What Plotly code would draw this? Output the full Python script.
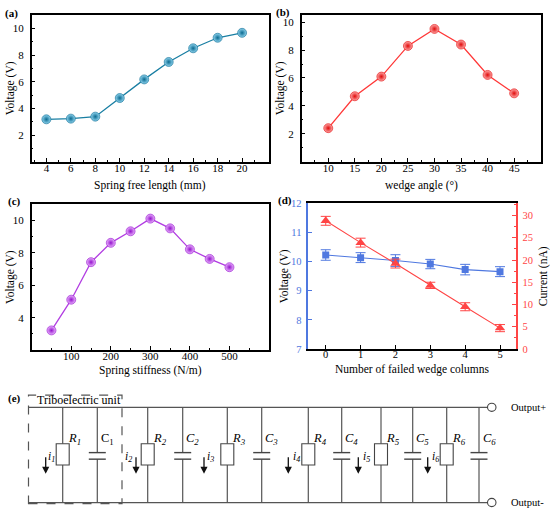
import plotly.graph_objects as go

W, H = 550, 519
SERIF = "Liberation Serif, Times New Roman, Times, serif"

# ---------------- data ----------------
# (a)
spring_length_mm = [4, 6, 8, 10, 12, 14, 16, 18, 20]
voltage_a = [3.18, 3.23, 3.38, 4.78, 6.18, 7.49, 8.52, 9.31, 9.68]
# (b)
wedge_angle_deg = [10, 15, 20, 25, 30, 35, 40, 45]
voltage_b = [2.4, 4.69, 6.1, 8.3, 9.52, 8.4, 6.22, 4.9]
# (c)
spring_stiffness = [50, 100, 150, 200, 250, 300, 350, 400, 450, 500]
voltage_c = [3.22, 5.11, 7.42, 8.61, 9.32, 10.1, 9.5, 8.21, 7.62, 7.11]
# (d)
failed_columns = [0, 1, 2, 3, 4, 5]
voltage_d = [10.22, 10.13, 10.03, 9.91, 9.72, 9.65]
voltage_d_err = [0.18, 0.17, 0.2, 0.16, 0.18, 0.17]
current_d = [28.8, 23.9, 19.2, 14.3, 9.5, 4.7]
current_d_err = [1.0, 1.0, 1.0, 0.7, 0.9, 0.8]
# (e)
branch_index = ["1", "2", "3", "4", "5", "6"]

# ---------------- helpers ----------------
def px(x):
    return x / W

def py(y):
    return 1 - y / H

def box_axis(**kw):
    d = dict(showline=True, linecolor="black", linewidth=1.5, mirror=True,
             ticks="inside", ticklen=4, tickwidth=1, tickcolor="black",
             showgrid=False, zeroline=False,
             tickfont=dict(family=SERIF, size=11, color="black"),
             ticklabelstandoff=-5)
    d.update(kw)
    return d

fig = go.Figure()

def sphere_trace(x, y, xa, ya, line_col, center_col, edge_col):
    return go.Scatter(
        x=x, y=y, xaxis=xa, yaxis=ya, mode="lines+markers",
        line=dict(color=line_col, width=1.3),
        marker=dict(symbol="circle", size=9, color=center_col,
                    gradient=dict(type="radial", color=edge_col),
                    line=dict(width=0.6, color=edge_col)),
        showlegend=False, hoverinfo="x+y")

fig.add_trace(sphere_trace(spring_length_mm, voltage_a, "x", "y",
                           "#1a7fa3", "#8fd4ef", "#0a6a90"))
fig.add_trace(sphere_trace(wedge_angle_deg, voltage_b, "x2", "y2",
                           "#ff3838", "#ffa8a8", "#e00a0a"))
fig.add_trace(sphere_trace(spring_stiffness, voltage_c, "x3", "y3",
                           "#b23ee2", "#eab0ff", "#9414cc"))

BLUE = "#4f78e0"
RED = "#ff4545"
fig.add_trace(go.Scatter(
    x=failed_columns, y=voltage_d, xaxis="x4", yaxis="y4",
    mode="lines+markers", line=dict(color=BLUE, width=1.1),
    marker=dict(symbol="square", size=7, color=BLUE),
    error_y=dict(type="data", array=voltage_d_err, color=BLUE,
                 thickness=1, width=5),
    showlegend=False))
fig.add_trace(go.Scatter(
    x=failed_columns, y=current_d, xaxis="x4", yaxis="y5",
    mode="lines+markers", line=dict(color=RED, width=1.1),
    marker=dict(symbol="triangle-up", size=9, color=RED),
    error_y=dict(type="data", array=current_d_err, color=RED,
                 thickness=1, width=5),
    showlegend=False))

dom_a_x = [px(31.7), px(269)]
dom_top_y = [py(160), py(10.5)]
dom_b_x = [px(301.7), px(540.7)]
dom_c_y = [py(352.7), py(203.3)]
dom_d_x = [px(308.3), px(515.7)]
dom_d_y = [py(351.5), py(202.3)]

fig.update_layout(
    width=W, height=H, margin=dict(l=0, r=0, t=0, b=0),
    paper_bgcolor="white", plot_bgcolor="white", showlegend=False,
    xaxis=box_axis(domain=dom_a_x, anchor="y", range=[2.8, 22.2],
                   tickvals=[4, 6, 8, 10, 12, 14, 16, 18, 20],
                   minor=dict(tickvals=[3, 5, 7, 9, 11, 13, 15, 17, 19, 21],
                              ticks="inside", ticklen=2, tickcolor="black")),
    yaxis=box_axis(domain=dom_top_y, anchor="x", range=[0, 11],
                   tickvals=[2, 4, 6, 8, 10], ticklabelstandoff=4,
                   minor=dict(tickvals=[1, 3, 5, 7, 9, 11],
                              ticks="inside", ticklen=2, tickcolor="black")),
    xaxis2=box_axis(domain=dom_b_x, anchor="y2", range=[5, 50],
                    tickvals=[10, 15, 20, 25, 30, 35, 40, 45],
                    minor=dict(tickvals=[7.5, 12.5, 17.5, 22.5, 27.5, 32.5,
                                         37.5, 42.5, 47.5],
                               ticks="inside", ticklen=2, tickcolor="black")),
    yaxis2=box_axis(domain=dom_top_y, anchor="x2", range=[0, 10.5],
                    tickvals=[2, 4, 6, 8, 10], ticklabelstandoff=4,
                    minor=dict(tickvals=[1, 3, 5, 7, 9],
                               ticks="inside", ticklen=2, tickcolor="black")),
    xaxis3=box_axis(domain=dom_a_x, anchor="y3", range=[0, 600],
                    tickvals=[100, 200, 300, 400, 500],
                    minor=dict(tickvals=[50, 150, 250, 350, 450, 550],
                               ticks="inside", ticklen=2, tickcolor="black")),
    yaxis3=box_axis(domain=dom_c_y, anchor="x3", range=[2, 11],
                    tickvals=[4, 6, 8, 10], ticklabelstandoff=4,
                    minor=dict(tickvals=[3, 5, 7, 9],
                               ticks="inside", ticklen=2, tickcolor="black")),
    xaxis4=box_axis(domain=dom_d_x, anchor="y4", range=[-0.5, 5.45],
                    tickvals=[0, 1, 2, 3, 4, 5],
                    tickfont=dict(family=SERIF, size=10.5, color="black")),
    yaxis4=dict(domain=dom_d_y, anchor="x4", range=[7, 12], side="left",
                showline=True, linecolor=BLUE, linewidth=1.5, mirror=False,
                ticks="inside", ticklen=4, tickcolor=BLUE,
                tickvals=[7, 8, 9, 10, 11, 12], showgrid=False, zeroline=False,
                tickfont=dict(family=SERIF, size=10.5, color=BLUE),
                ticklabelstandoff=3),
    yaxis5=dict(overlaying="y4", anchor="x4", side="right", range=[0, 32.8],
                showline=True, linecolor=RED, linewidth=1.5,
                ticks="inside", ticklen=4, tickcolor=RED,
                tickvals=[0, 5, 10, 15, 20, 25, 30], showgrid=False,
                zeroline=False,
                minor=dict(tickvals=[2.5, 7.5, 12.5, 17.5, 22.5, 27.5, 32.5],
                           ticks="inside", ticklen=2, tickcolor=RED),
                tickfont=dict(family=SERIF, size=10.5, color=RED),
                ticklabelstandoff=3),
)

annotations = []
shapes = []

def text(x, y, t, size=11.5, xanchor="center", yanchor="middle",
         angle=0, color="black"):
    annotations.append(dict(
        x=px(x), y=py(y), xref="paper", yref="paper", text=t,
        showarrow=False, xanchor=xanchor, yanchor=yanchor, textangle=angle,
        font=dict(family=SERIF, size=size, color=color)))

# panel labels
for lbl, (lx, ly) in {"(a)": (3, 9), "(b)": (274, 8), "(c)": (6, 201),
                      "(d)": (276, 200), "(e)": (6, 402)}.items():
    text(lx, ly, "<b>%s</b>" % lbl, size=11, xanchor="left")

# axis titles
text(150, 184, "Spring free length (mm)", size=11.5)
text(422, 184, "wedge angle (°)", size=11.5)
text(150, 373, "Spring stiffness (N/m)", size=11.5)
text(412, 372, "Number of failed wedge columns", size=11.5)
text(10, 85, "Voltage (V)", size=11.5, angle=-90)
text(280, 85, "Voltage (V)", size=11.5, angle=-90)
text(10, 278, "Voltage (V)", size=11.5, angle=-90)
text(284, 277, "Voltage (V)", size=11.5, angle=-90)
text(543, 277, "Current (nA)", size=11.5, angle=-90)

# ---------------- circuit (e) ----------------
WIRE = "#555555"
TOP, BOT = 411, 508.3
R_X = [62.7, 147.7, 227.3, 308.3, 381, 446.7]
C_X = [97.3, 182.7, 261.7, 341.7, 412.7, 479]
I_X = [45.7, 136, 204, 288.3, 358.3, 427.7]
I_LABEL_DX = [6, -8, 7, 8, 8, 8]

def seg(x0, y0, x1, y1, color=WIRE, width=1.2, dash="solid"):
    shapes.append(dict(type="line", xref="paper", yref="paper",
                       x0=px(x0), y0=py(y0), x1=px(x1), y1=py(y1),
                       line=dict(color=color, width=width, dash=dash)))

# dashed box
shapes.append(dict(type="rect", xref="paper", yref="paper",
                   x0=px(28.5), y0=py(509.5), x1=px(122), y1=py(398.5),
                   line=dict(color="#555555", width=1.2, dash="dash")))
text(79, 404, "Triboelectric unit", size=12)

# rails
seg(28.5, TOP, 487.5, TOP)
seg(28.5, BOT, 487.5, BOT)

for k, idx in enumerate(branch_index):
    rx, cx, ix = R_X[k], C_X[k], I_X[k]
    # resistor branch
    seg(rx, TOP, rx, 448.3)
    seg(rx, 470, rx, BOT)
    shapes.append(dict(type="rect", xref="paper", yref="paper",
                       x0=px(rx - 6.5), y0=py(470), x1=px(rx + 6.5),
                       y1=py(448.3), line=dict(color="#444444", width=1.1),
                       fillcolor="white"))
    text(rx + 12, 443, "<i>R<sub>%s</sub></i>" % idx, size=12.5)
    # capacitor branch
    seg(cx, TOP, cx, 457.3)
    seg(cx, 464, cx, BOT)
    seg(cx - 8.5, 457.3, cx + 8.5, 457.3, color="#444444", width=1.4)
    seg(cx - 8.5, 464, cx + 8.5, 464, color="#444444", width=1.4)
    ctext = ("C<sub>%s</sub>" % idx) if k == 0 else ("<i>C<sub>%s</sub></i>" % idx)
    text(cx + 10, 443, ctext, size=12.5)
    # current arrow
    annotations.append(dict(
        x=px(ix), y=py(479), xref="paper", yref="paper",
        ax=0, ay=-18, axref="pixel", ayref="pixel",
        showarrow=True, arrowhead=2, arrowsize=1.1, arrowwidth=1.3,
        arrowcolor="#111111", text=""))
    text(ix + I_LABEL_DX[k], 462, "<i>i<sub>%s</sub></i>" % idx, size=11.5)

# output terminals
for yy, lbl in [(TOP, "Output+"), (BOT, "Output-")]:
    shapes.append(dict(type="circle", xref="paper", yref="paper",
                       x0=px(487.5), x1=px(496), y0=py(yy + 4.2),
                       y1=py(yy - 4.2),
                       line=dict(color="#444444", width=1.1),
                       fillcolor="white"))
    text(509, yy, lbl, size=10.5, xanchor="left")

fig.update_layout(annotations=annotations, shapes=shapes)

fig.write_html("out.html", config={"displayModeBar": False},
               post_script="document.body.style.margin='0';"
                           "document.body.style.padding='0';")
